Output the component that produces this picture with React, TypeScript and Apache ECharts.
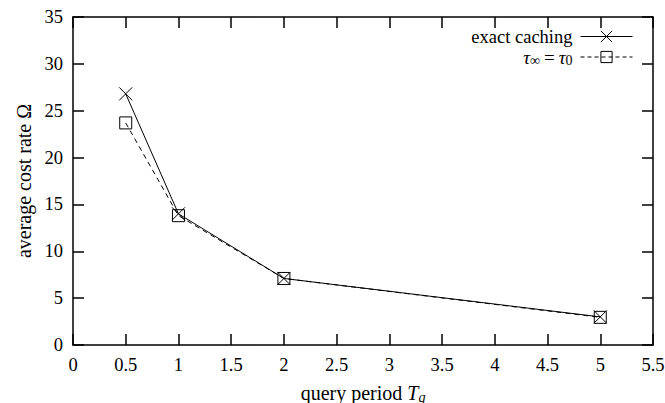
import React, { useEffect, useRef } from "react";
import * as echarts from "echarts";

const periods = [0.5, 1, 2, 5];
const exactCaching = [26.8, 14.0, 7.1, 3.0];
const tauEqual = [23.7, 13.8, 7.1, 2.95];
const seriesNames = ["exact caching", "tau"];

const FONT = "Liberation Serif";

export default function App() {
  const ref = useRef<HTMLDivElement>(null);
  useEffect(() => {
    if (!ref.current) return;
    const chart = echarts.init(ref.current, null, { renderer: "svg" });
    const axisCommon = {
      type: "value" as const,
      axisLine: { show: true, onZero: false, lineStyle: { color: "#000", width: 1.5 } },
      axisTick: { show: true, inside: true, length: 11, lineStyle: { color: "#000", width: 1.5 } },
      splitLine: { show: false },
    };
    const rich = {
      t: { fontFamily: FONT, fontSize: 18.5, color: "#000" },
      r: { fontFamily: FONT, fontSize: 18.5, color: "#000", lineHeight: 17 },
      i: { fontFamily: FONT, fontStyle: "italic", fontSize: 20, color: "#000" },
      s: { fontFamily: FONT, fontStyle: "italic", fontSize: 14, color: "#000", padding: [9, 0, 0, 0] },
      li: { fontFamily: FONT, fontStyle: "italic", fontSize: 19, color: "#000", lineHeight: 17 },
      n: { fontFamily: FONT, fontSize: 14, color: "#000", padding: [6, 0, 0, 0], lineHeight: 11 },
      e: { fontFamily: FONT, fontSize: 19, color: "#000", padding: [0, 4, 0, 4], lineHeight: 17 },
    };
    const tickLabel = (v: number) => "{t|" + v + "}";
    chart.setOption({
      animation: false,
      backgroundColor: "#fff",
      textStyle: { fontFamily: FONT },
      grid: { left: 73, right: 12, top: 17, bottom: 58, containLabel: false, outerBoundsMode: "none" },
      legend: {
        orient: "vertical",
        right: 27,
        top: 22,
        align: "right",
        itemWidth: 52,
        itemHeight: 14,
        itemGap: 1,
        data: [
          { name: seriesNames[0], lineStyle: { width: 1, type: "solid" }, itemStyle: { borderWidth: 1 } },
          { name: seriesNames[1], lineStyle: { width: 1, type: [4, 3] }, itemStyle: { borderWidth: 1 } },
        ],
        textStyle: { fontFamily: FONT, fontSize: 19, color: "#000", rich, padding: [0, 3, 0, 0] },
        formatter: (name: string) =>
          name === "tau" ? "{li|τ}{n|∞}{e|=}{li|τ}{n|0}" : "{r|" + name + "}",
      },
      xAxis: [
        {
          ...axisCommon,
          min: 0,
          max: 5.5,
          interval: 0.5,
          position: "bottom",
          axisLabel: { fontFamily: FONT, fontSize: 18.5, color: "#000", margin: 10, formatter: tickLabel, rich },
          name: "query period {i|T}{s|q}",
          nameLocation: "middle",
          nameGap: 36,
          nameTextStyle: { fontFamily: FONT, fontSize: 20, color: "#000", rich },
        },
        {
          ...axisCommon,
          min: 0,
          max: 5.5,
          interval: 0.5,
          position: "top",
          axisLabel: { show: false },
        },
      ],
      yAxis: [
        {
          ...axisCommon,
          min: 0,
          max: 35,
          interval: 5,
          position: "left",
          axisLabel: { fontFamily: FONT, fontSize: 18.5, color: "#000", margin: 10, formatter: tickLabel, rich },
          name: "average cost rate Ω",
          nameLocation: "middle",
          nameGap: 39,
          nameTextStyle: { fontFamily: FONT, fontSize: 20, color: "#000" },
        },
        {
          ...axisCommon,
          min: 0,
          max: 35,
          interval: 5,
          position: "right",
          axisLabel: { show: false },
        },
      ],
      series: [
        {
          name: seriesNames[1],
          type: "line",
          data: periods.map((p, i) => [p, tauEqual[i]]),
          symbol: "rect",
          symbolSize: 12,
          lineStyle: { color: "#000", width: 1, type: [5, 4] },
          itemStyle: { color: "rgba(0,0,0,0)", borderColor: "#000", borderWidth: 1 },
        },
        {
          name: seriesNames[0],
          type: "line",
          data: periods.map((p, i) => [p, exactCaching[i]]),
          symbol: "path://M0,0L1,1M1,0L0,1",
          symbolSize: 13,
          lineStyle: { color: "#000", width: 1 },
          itemStyle: { color: "rgba(0,0,0,0)", borderColor: "#000", borderWidth: 1 },
        },
      ],
    });
    return () => chart.dispose();
  }, []);
  return <div ref={ref} style={{ width: 665, height: 403, position: "absolute", left: 0, top: 0 }} />;
}
